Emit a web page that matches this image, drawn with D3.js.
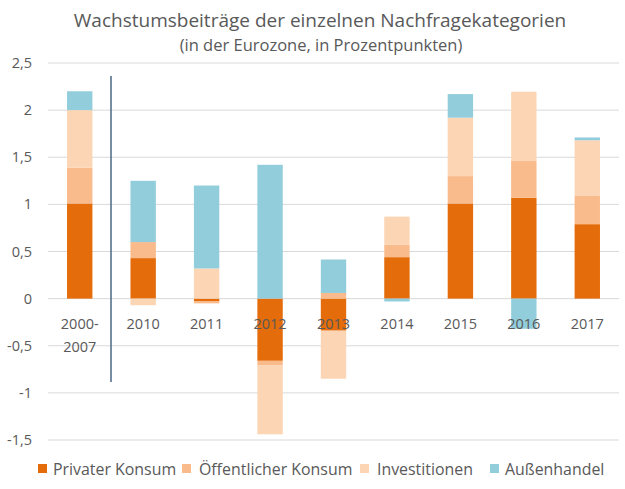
<!DOCTYPE html>
<html><head><meta charset="utf-8">
<script src="https://cdn.jsdelivr.net/npm/d3@7/dist/d3.min.js"></script>
<style>body{margin:0;background:#fff;} svg{display:block;}</style>
</head><body>
<svg id="c" width="625" height="489"></svg>
<script>
const categories = ["2000-2007","2010","2011","2012","2013","2014","2015","2016","2017"];
const seriesNames = ["Privater Konsum","Öffentlicher Konsum","Investitionen","Außenhandel"];
const privaterKonsum     = [1.01, 0.43, -0.03, -0.66, -0.34, 0.44, 1.01, 1.07, 0.79];
const oeffentlicherKonsum= [0.38, 0.17, -0.02, -0.05,  0.06, 0.13, 0.29, 0.39, 0.305];
const investitionen      = [0.61, -0.07, 0.32, -0.73, -0.51, 0.30, 0.62, 0.735, 0.585];
const aussenhandel       = [0.20, 0.65, 0.88, 1.42, 0.355, -0.03, 0.25, -0.32, 0.03];
const yTicks = [2.5, 2, 1.5, 1, 0.5, 0, -0.5, -1, -1.5];
const colors = ["#e46c0a","#f9bb8c","#fcd5b4","#92cddc"];
const font = "'Open Sans', sans-serif";
const txt = "#595959";

const svg = d3.select("#c");
const pLeft = 48, pRight = 619, pTop = 63, pBottom = 440;
const x = d3.scaleBand().domain(categories).range([pLeft, pRight]).paddingInner(0.6).paddingOuter(0.3);
const y = d3.scaleLinear().domain([-1.5, 2.5]).range([pBottom, pTop]);

const rows = categories.map((c,i)=>({cat:c, s0:privaterKonsum[i], s1:oeffentlicherKonsum[i], s2:investitionen[i], s3:aussenhandel[i]}));
const stack = d3.stack().keys(["s0","s1","s2","s3"]).offset(d3.stackOffsetDiverging);
const stacked = stack(rows);

// gridlines
svg.append("g").selectAll("line").data(yTicks).join("line")
  .attr("x1", pLeft).attr("x2", pRight)
  .attr("y1", d=>y(d)).attr("y2", d=>y(d))
  .attr("stroke", "#d9d9d9").attr("stroke-width", 1);

// y labels
const fmt = d => String(d).replace(".", ",");
svg.append("g").selectAll("text").data(yTicks).join("text")
  .attr("x", 32).attr("y", d=>y(d)).attr("dy","0.35em")
  .attr("text-anchor","end").attr("font-family",font).attr("font-size",14.5).attr("fill",txt)
  .text(fmt);

// bars
svg.append("g").selectAll("g").data(stacked).join("g")
  .attr("fill",(d,i)=>colors[i])
  .selectAll("rect").data(d=>d).join("rect")
  .attr("x", d=>x(d.data.cat)).attr("width", x.bandwidth())
  .attr("y", d=>y(Math.max(d[0],d[1]))).attr("height", d=>Math.abs(y(d[0])-y(d[1])));

// x labels
const xl = svg.append("g");
categories.forEach(c=>{
  const parts = c === "2000-2007" ? ["2000-","2007"] : [c];
  const t = xl.append("text").attr("x", x(c)+x.bandwidth()/2).attr("y", 329)
    .attr("text-anchor","middle").attr("font-family",font).attr("font-size",14.5).attr("fill",txt);
  parts.forEach((p,j)=>t.append("tspan").attr("x", x(c)+x.bandwidth()/2).attr("dy", j===0?0:23).text(p));
});

// separator
svg.append("line").attr("x1",111).attr("x2",111).attr("y1",76).attr("y2",382)
  .attr("stroke","#4a6785").attr("stroke-width",1.5);

// title
svg.append("text").attr("x",320).attr("y",27).attr("text-anchor","middle")
  .attr("font-family",font).attr("font-size",19).attr("fill",txt)
  .text("Wachstumsbeiträge der einzelnen Nachfragekategorien");
svg.append("text").attr("x",321).attr("y",51).attr("text-anchor","middle")
  .attr("font-family",font).attr("font-size",16.5).attr("fill",txt)
  .text("(in der Eurozone, in Prozentpunkten)");

// legend
const lx = [38, 182, 360, 490];
const tx = [53, 199, 377, 505];
const lg = svg.append("g");
seriesNames.forEach((n,i)=>{
  lg.append("rect").attr("x",lx[i]).attr("y",464).attr("width",9).attr("height",9).attr("fill",colors[i]);
  lg.append("text").attr("x",tx[i]).attr("y",469).attr("dy","0.35em")
    .attr("font-family",font).attr("font-size",15.9).attr("fill",txt).text(n);
});
</script>
</body></html>
